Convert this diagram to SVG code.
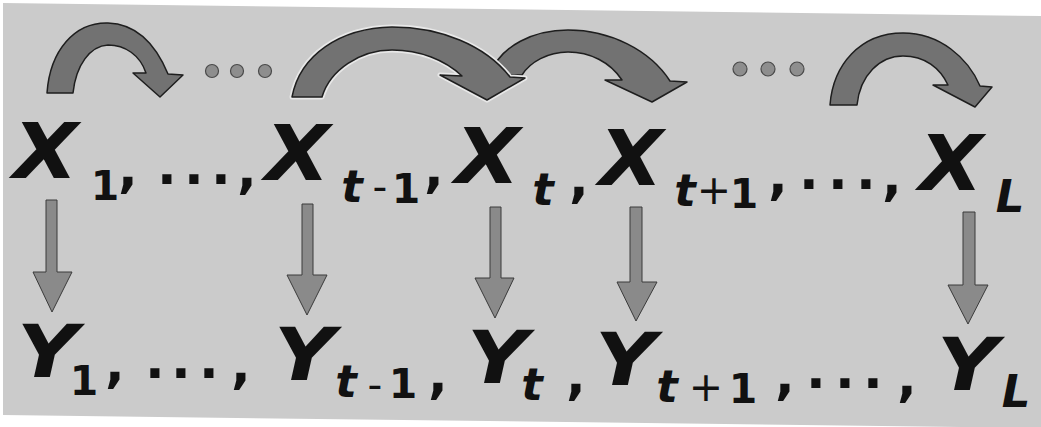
<svg xmlns="http://www.w3.org/2000/svg" width="1041" height="427" viewBox="0 0 1041 427">
<style>
.big{font-family:"DejaVu Sans","Liberation Sans",sans-serif;font-weight:bold;font-style:italic;fill:#111}
.bx{font-size:76px}
.by{font-size:73px}
.sub{font-family:"DejaVu Sans","Liberation Sans",sans-serif;font-weight:bold;font-size:41px;fill:#111;text-anchor:middle}
.it{font-style:italic;font-size:45px}
.thin{font-weight:normal}
.pun{font-family:"DejaVu Sans","Liberation Sans",sans-serif;font-weight:bold;font-size:52px;fill:#111;text-anchor:middle}
.curve{fill:#727272;stroke:#1e1e1e;stroke-width:1.5;stroke-linejoin:round}
.halo{fill:none;stroke:#e8e8e8;stroke-width:5;stroke-linejoin:round}
.down{fill:#8a8a8a;stroke:#3a3a3a;stroke-width:1}
.dot{fill:#8e8e8e;stroke:#4a4a4a;stroke-width:1.2}
</style>
<rect x="0" y="0" width="1041" height="427" fill="#ffffff"/>
<polygon points="3,3 1041,16 1041,428 3,415" fill="#cbcbcb"/>

<g id="connectors">
  <path id="c3" class="curve" d="M490,75 C500,45 535,30 568,30 C610,30 650,50 670,81 L687,82 L652,102 L605,80 L622,80 C610,62 590,52 568,52 C548,52 530,62 522,75 Z"/>
  <path class="halo" d="M292,97 C300,55 340,28 392,27 C440,27 485,45 510,77 L525,78 L487,100 L440,75 L462,76 C445,60 420,50 392,50 C360,50 330,70 322,97 Z"/>
  <path id="c2" class="curve" d="M292,97 C300,55 340,28 392,27 C440,27 485,45 510,77 L525,78 L487,100 L440,75 L462,76 C445,60 420,50 392,50 C360,50 330,70 322,97 Z"/>
  <path id="c1" class="curve" d="M47,93 C50,50 75,22 108,23 C140,24 158,50 168,74 L183,75 L160,97 L133,73 L146,73 C140,55 125,45 108,45 C90,46 76,65 73,93 Z"/>
  <path id="c4" class="curve" d="M830,105 C833,65 860,33 903,33 C940,33 968,58 980,86 L992,87 L975,107 L933,85 L948,85 C940,68 925,56 903,56 C880,56 860,75 857,105 Z"/>
  <path class="down" d="M46,200 H57 V272 H72 L52,312 L33,272 H46 Z"/>
  <path class="down" d="M302,204 H313 V275 H327 L307,315 L287,275 H302 Z"/>
  <path class="down" d="M490,207 H501 V278 H514 L495,318 L475,278 H490 Z"/>
  <path class="down" d="M630,207 H642 V282 H657 L636,321 L617,282 H630 Z"/>
  <path class="down" d="M963,212 H975 V285 H988 L968,324 L948,285 H963 Z"/>
</g>

<g id="ellipsis-top-1">
  <circle class="dot" cx="212" cy="71" r="6.5"/>
  <circle class="dot" cx="237" cy="71" r="6.5"/>
  <circle class="dot" cx="265" cy="71" r="6.5"/>
</g>
<g id="ellipsis-top-2">
  <circle class="dot" cx="740" cy="69" r="7"/>
  <circle class="dot" cx="768" cy="69" r="7"/>
  <circle class="dot" cx="797" cy="69" r="7"/>
</g>

<g id="x1"><text class="big bx" x="13" y="178" textLength="65" lengthAdjust="spacingAndGlyphs">X</text><text class="sub" x="105" y="200">1</text><text class="pun" x="128" y="187">,</text></g>
<g id="xdots"><text class="pun" x="167" y="184">.</text><text class="pun" x="194" y="184">.</text><text class="pun" x="221" y="184">.</text><text class="pun" x="247" y="188">,</text></g>
<g id="xtm1"><text class="big bx" x="265" y="180" textLength="65" lengthAdjust="spacingAndGlyphs">X</text><text class="sub it" x="352" y="202">t</text><text class="sub thin" x="380" y="201">-</text><text class="sub" x="406" y="203">1</text><text class="pun" x="434" y="187">,</text></g>
<g id="xt"><text class="big bx" x="455" y="183" textLength="65" lengthAdjust="spacingAndGlyphs">X</text><text class="sub it" x="543" y="205">t</text><text class="pun" x="579" y="197">,</text></g>
<g id="xtp1"><text class="big bx" x="599" y="185" textLength="64" lengthAdjust="spacingAndGlyphs">X</text><text class="sub it" x="685" y="206">t</text><text class="sub thin" x="714" y="204">+</text><text class="sub" x="744" y="208">1</text><text class="pun" x="778" y="194">,</text></g>
<g id="xdots2"><text class="pun" x="809" y="189">.</text><text class="pun" x="838" y="189">.</text><text class="pun" x="866" y="189">.</text><text class="pun" x="892" y="195">,</text></g>
<g id="xL"><text class="big bx" x="919" y="190" textLength="64" lengthAdjust="spacingAndGlyphs">X</text><text class="sub it" x="1010" y="212">L</text></g>

<g id="y1"><text class="big by" x="17" y="377" textLength="61" lengthAdjust="spacingAndGlyphs">Y</text><text class="sub" x="84" y="395">1</text><text class="pun" x="115" y="382">,</text></g>
<g id="ydots"><text class="pun" x="155" y="378">.</text><text class="pun" x="181" y="378">.</text><text class="pun" x="209" y="378">.</text><text class="pun" x="241" y="383">,</text></g>
<g id="ytm1"><text class="big by" x="274" y="380" textLength="61" lengthAdjust="spacingAndGlyphs">Y</text><text class="sub it" x="346" y="397">t</text><text class="sub thin" x="375" y="399">-</text><text class="sub" x="403" y="398">1</text><text class="pun" x="438" y="393">,</text></g>
<g id="yt"><text class="big by" x="467" y="383" textLength="61" lengthAdjust="spacingAndGlyphs">Y</text><text class="sub it" x="532" y="400">t</text><text class="pun" x="576" y="394">,</text></g>
<g id="ytp1"><text class="big by" x="595" y="385" textLength="61" lengthAdjust="spacingAndGlyphs">Y</text><text class="sub it" x="667" y="402">t</text><text class="sub thin" x="706" y="401">+</text><text class="sub" x="743" y="403">1</text><text class="pun" x="785" y="394">,</text></g>
<g id="ydots2"><text class="pun" x="816" y="388">.</text><text class="pun" x="845" y="388">.</text><text class="pun" x="873" y="388">.</text><text class="pun" x="907" y="396">,</text></g>
<g id="yL"><text class="big by" x="937" y="390" textLength="61" lengthAdjust="spacingAndGlyphs">Y</text><text class="sub it" x="1016" y="407">L</text></g>
</svg>
